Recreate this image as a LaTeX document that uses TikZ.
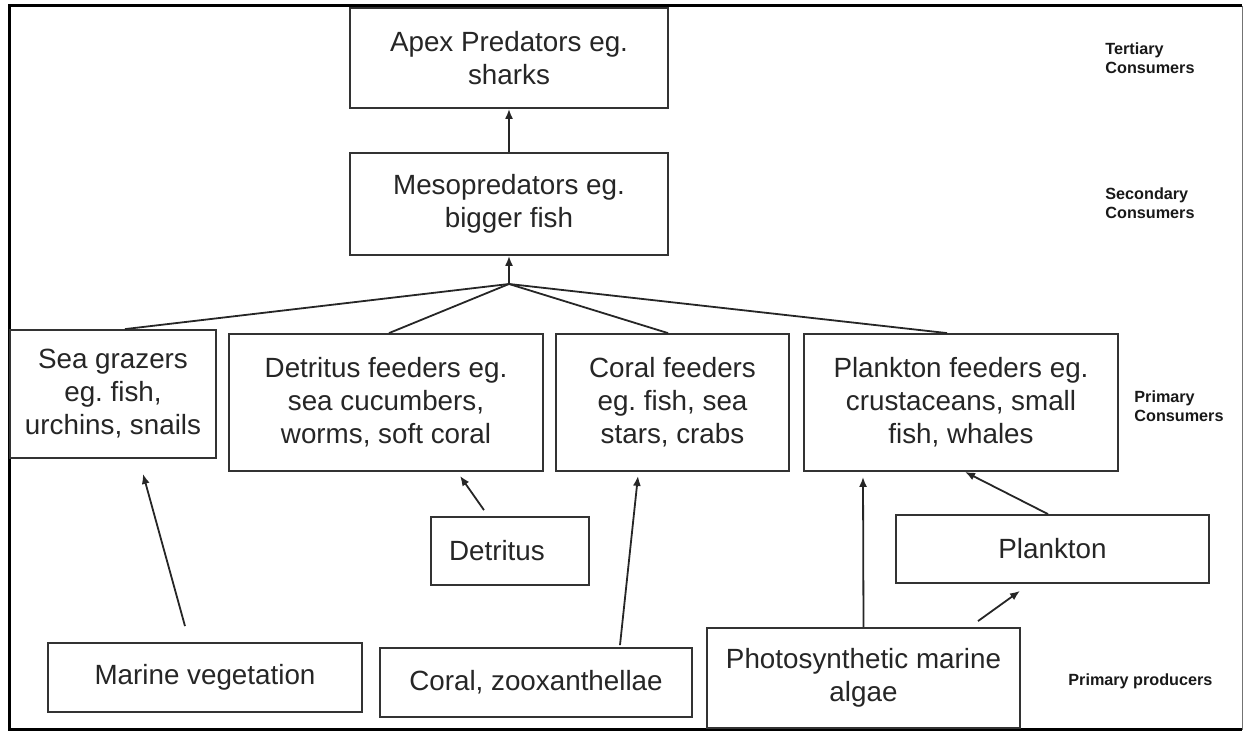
\documentclass[tikz,border=0pt]{standalone}
\usepackage{fontspec}
\setmainfont{Liberation Sans}
\usetikzlibrary{arrows.meta}
\frenchspacing

\begin{document}
\begin{tikzpicture}[
  x=0.5pt,y=-0.5pt,
  >={Latex[length=5pt,width=4pt]},
  trophic/.style 2 args={draw=black!80,line width=0.9pt,fill=white,align=center,inner sep=0pt,
                         minimum width=#1,minimum height=#2,text=black!85,
                         font=\fontsize{13.9pt}{16.5pt}\selectfont},
  tier/.style={anchor=west,align=left,inner sep=0pt,text=black!90,
               font=\fontsize{8.1pt}{9.7pt}\selectfont\bfseries},
  arr/.style={->,draw=black!85,line width=0.9pt},
  feed/.style={draw=black!85,line width=0.9pt},
]
\useasboundingbox (0,0) rectangle (1244,732);
% ---- frame ----
\draw[line width=1.5pt] (1242,6) -- (9,6) -- (9,730) -- (1242,730);
\draw[line width=0.4pt,black!55] (1242.5,6) -- (1242.5,730);

% ---- consumers ----
\node[trophic={159pt}{50pt}] (apex) at (509,58) {Apex Predators eg.\\sharks};
\node[trophic={159pt}{51pt}] (meso) at (509,204) {Mesopredators eg.\\bigger fish};
\node[trophic={103pt}{64pt}] (grazers) at (113,394) {Sea grazers\\eg. fish,\\urchins, snails};
\node[trophic={157pt}{68.5pt}] (detfeed) at (386,402.5) {Detritus feeders eg.\\sea cucumbers,\\worms, soft coral};
\node[trophic={116.5pt}{68.5pt}] (coralfeed) at (672.5,402.5) {Coral feeders\\eg. fish, sea\\stars, crabs};
\node[trophic={157pt}{68.5pt}] (plankfeed) at (961,402.5) {Plankton feeders eg.\\crustaceans, small\\fish, whales};

% ---- food sources ----
\node[trophic={79pt}{34pt},align=left,text width=61pt,inner xsep=9pt] (detritus) at (510,551) {Detritus};
\node[trophic={156.5pt}{34pt}] (plankton) at (1052.5,549) {Plankton};
\node[trophic={157pt}{34.5pt}] (veg) at (205,677.5) {Marine vegetation};
\node[trophic={156pt}{34.5pt}] (coral) at (536,682.5) {Coral, zooxanthellae};
\node[trophic={156.5pt}{50pt}] (algae) at (863.5,678) {Photosynthetic marine\\algae};

% ---- tier labels ----
\node[tier] (tert) at (1105,58) {Tertiary\\Consumers};
\node[tier] (sec) at (1105,203) {Secondary\\Consumers};
\node[tier] (prim) at (1134,406) {Primary\\Consumers};
\node[tier] (prod) at (1068,681) {Primary producers};

% ---- links ----
\coordinate (j) at (509,284);
\draw[arr] (meso.north) -- (apex.south);
\draw[arr] (j) -- (meso.south);
\draw[feed] (j) -- ([xshift=6pt]grazers.north);
\draw[feed] (j) -- ([xshift=1.5pt]detfeed.north);
\draw[feed] (j) -- ([xshift=-2.25pt]coralfeed.north);
\draw[feed] (j) -- ([xshift=-7pt]plankfeed.north);
\draw[arr] ([xshift=-10pt,yshift=8pt]veg.north) -- ([xshift=15pt,yshift=-7.5pt]grazers.south);
\draw[arr] ([xshift=-13pt,yshift=3pt]detritus.north) -- ([xshift=37pt,yshift=-2pt]detfeed.south);
\draw[arr] ([xshift=42pt,yshift=1pt]coral.north) -- ([xshift=-17.25pt,yshift=-2pt]coralfeed.south);
\draw[arr] (algae.north) -- ([xshift=-49pt,yshift=-2.5pt]plankfeed.south);
\draw[arr] ([xshift=-2.25pt]plankton.north) -- ([xshift=2pt]plankfeed.south);
\draw[arr] ([xshift=57.25pt,yshift=3pt]algae.north) -- ([xshift=-16.25pt,yshift=-3.5pt]plankton.south);
\end{tikzpicture}
\end{document}
